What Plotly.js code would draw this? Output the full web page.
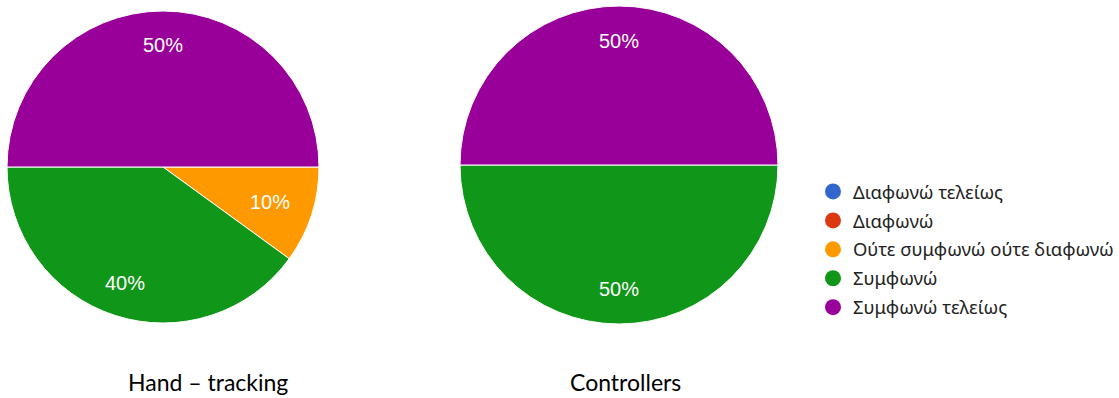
<!DOCTYPE html>
<html>
<head>
<meta charset="utf-8">
<script src="https://cdn.plot.ly/plotly-3.0.1.min.js"></script>
<style>html,body{margin:0;padding:0;background:#fff;}#chart{width:1119px;height:398px;}</style>
</head>
<body>
<div id="chart"></div>
<script>
const categories = ["Διαφωνώ τελείως", "Διαφωνώ", "Ούτε συμφωνώ ούτε διαφωνώ", "Συμφωνώ", "Συμφωνώ τελείως"];
const colors = ["#3366cc", "#dc3912", "#ff9900", "#109618", "#990099"];
const handTracking = [0, 0, 1, 4, 5];
const controllers = [0, 0, 0, 5, 5];
const chartTitles = ["Hand – tracking", "Controllers"];

const W = 1119, H = 398;
const ROTATION = 90;
// pie boxes in pixels (left, top, size)
const pieBoxes = [
  {left: 7, top: 11, size: 312},
  {left: 460, top: 6, size: 318}
];

function pieTrace(values, box) {
  return {
    type: "pie",
    labels: categories,
    values: values,
    sort: false,
    direction: "clockwise",
    rotation: ROTATION,
    marker: {colors: colors, line: {color: "#ffffff", width: 1}},
    textinfo: "none",
    hoverinfo: "label+percent",
    showlegend: false,
    domain: {
      x: [box.left / W, (box.left + box.size) / W],
      y: [1 - (box.top + box.size) / H, 1 - box.top / H]
    }
  };
}

function pctAnnotations(values, box) {
  const total = values.reduce((a, b) => a + b, 0);
  const cx = box.left + box.size / 2, cy = box.top + box.size / 2, r = box.size / 2;
  const out = [];
  let cum = 0;
  values.forEach(v => {
    if (v > 0) {
      const frac = v / total;
      const ang = (ROTATION + 360 * (cum + v / 2) / total) * Math.PI / 180;
      const f = frac < 0.2 ? 0.72 : 0.78;
      const px = cx + f * r * Math.sin(ang);
      const py = cy - f * r * Math.cos(ang);
      out.push({
        text: Math.round(frac * 100) + "%", x: px / W, y: 1 - py / H,
        xref: "paper", yref: "paper", showarrow: false, xanchor: "center", yanchor: "middle",
        font: {family: "Liberation Sans, Arial, sans-serif", size: 20, color: "#ffffff"}
      });
    }
    cum += v;
  });
  return out;
}

const traces = [
  pieTrace(handTracking, pieBoxes[0]),
  pieTrace(controllers, pieBoxes[1])
];
categories.forEach((c, i) => {
  traces.push({
    type: "scatter", mode: "markers", x: [null], y: [null], name: c,
    marker: {symbol: "circle", size: 18, color: colors[i]},
    showlegend: true, legendgroup: "g" + i, hoverinfo: "skip"
  });
});

const titleFont = {family: "Lato, sans-serif", size: 23, color: "#000000"};
const layout = {
  width: W, height: H,
  margin: {l: 0, r: 0, t: 0, b: 0},
  paper_bgcolor: "#ffffff", plot_bgcolor: "#ffffff",
  xaxis: {visible: false}, yaxis: {visible: false},
  showlegend: true,
  legend: {
    x: 813 / W, y: 1 - 173 / H, xanchor: "left", yanchor: "top",
    font: {family: "Noto Sans, sans-serif", size: 18.4, color: "#222222"},
    traceorder: "grouped", tracegroupgap: 2,
    bgcolor: "rgba(0,0,0,0)"
  },
  annotations: [
    {text: chartTitles[0], x: 208 / W, y: 1 - 382 / H, xref: "paper", yref: "paper", showarrow: false,
     font: titleFont, xanchor: "center", yanchor: "middle"},
    {text: chartTitles[1], x: 625 / W, y: 1 - 382 / H, xref: "paper", yref: "paper", showarrow: false,
     font: titleFont, xanchor: "center", yanchor: "middle"}
  ].concat(pctAnnotations(handTracking, pieBoxes[0]), pctAnnotations(controllers, pieBoxes[1]))
};

Plotly.newPlot("chart", traces, layout, {displayModeBar: false, staticPlot: true});
</script>
</body>
</html>
